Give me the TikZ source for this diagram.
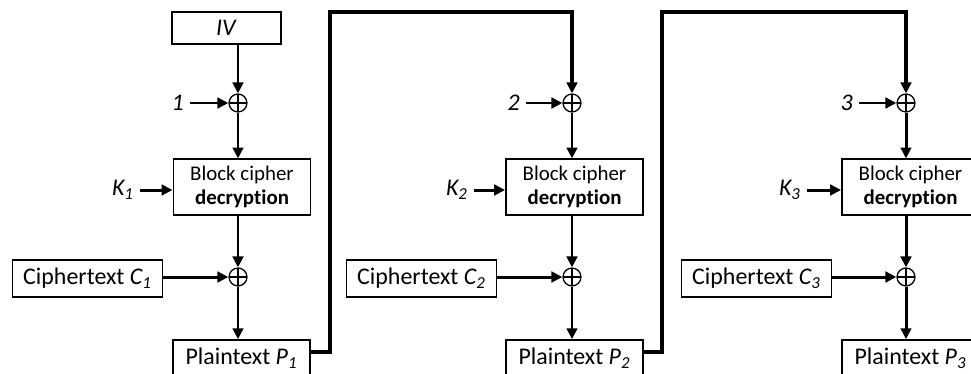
\documentclass[tikz,border=0pt]{standalone}
\usepackage{fontspec}
\setmainfont{Carlito}[Ligatures=NoCommon]
\usetikzlibrary{arrows.meta,calc}
\newcommand{\labfont}{\fontsize{13.6}{16}\selectfont}
\newcommand{\blkfont}{\fontsize{11.9}{14}\selectfont}
\tikzset{
	cbox/.style={
		draw,
		line width=0.85pt,
		align=center,
		inner xsep=6pt,
		inner ysep=0pt,
		font=\labfont
	},
	dbox/.style={cbox, minimum width=78.2pt, minimum height=31.7pt, font=\blkfont},
	pbox/.style={cbox, minimum width=78.2pt, minimum height=20.6pt},
	xorc/.style={
		circle, draw, line width=0.75pt, minimum size=10.2pt, inner sep=0pt,
		path picture={\draw[line width=0.75pt] (path picture bounding box.north) -- (path picture bounding box.south)
			(path picture bounding box.west) -- (path picture bounding box.east);}
	},
	lbl/.style={font=\labfont, anchor=east},
	carr/.style={-{Triangle[length=6.2pt,width=6pt]}, line width=1.7pt},
	fline/.style={carr, line width=1.8pt}
}

\begin{document}
\begin{tikzpicture}[x=0.02cm, y=-0.02cm]
		\useasboundingbox (0,0) rectangle (971,373);
		\clip (0,0) rectangle (971,373);
		% column 1
		\node[cbox, minimum width=61.8pt, minimum height=18.1pt] (iv) at (226.5,28) {\textit{IV}};
		\node[xorc] (x11) at (238,103) {};
		\node[lbl] (n1) at (190,103) {\textit{1}};
		\node[dbox] (d1) at (242,187) {Block cipher\\\textbf{decryption}};
		\node[lbl] (k1) at (140,190) {\textit{K\textsubscript{1}}};
		\node[xorc] (x12) at (238,277) {};
		\node[cbox, minimum height=21pt, anchor=east] (c1) at (163,278.5) {Ciphertext \textit{C\textsubscript{1}}};
		\node[pbox] (p1) at (241.5,358) {Plaintext \textit{P\textsubscript{1}}};
		% column 2
		\node[xorc] (x21) at (572,103) {};
		\node[lbl] (n2) at (526,103) {\textit{2}};
		\node[dbox] (d2) at (574.5,187) {Block cipher\\\textbf{decryption}};
		\node[lbl] (k2) at (474,190) {\textit{K\textsubscript{2}}};
		\node[xorc] (x22) at (572,277) {};
		\node[cbox, minimum height=21pt, anchor=east] (c2) at (497,278.5) {Ciphertext \textit{C\textsubscript{2}}};
		\node[pbox] (p2) at (574.5,358) {Plaintext \textit{P\textsubscript{2}}};
		% column 3
		\node[xorc] (x31) at (906,103) {};
		\node[lbl] (n3) at (859,103) {\textit{3}};
		\node[dbox] (d3) at (910.5,187) {Block cipher\\\textbf{decryption}};
		\node[lbl] (k3) at (807,190) {\textit{K\textsubscript{3}}};
		\node[xorc] (x32) at (906,277) {};
		\node[cbox, minimum height=21pt, anchor=east] (c3) at (832,278.5) {Ciphertext \textit{C\textsubscript{3}}};
		\node[pbox] (p3) at (910.5,358) {Plaintext \textit{P\textsubscript{3}}};
		% feedback corners
		\coordinate (b1) at (330,352);
		\coordinate (t1) at (330,12);
		\coordinate (b2) at (662,352);
		\coordinate (t2) at (662,12);
		% arrows
		\draw[carr] (iv.south -| x11) -- (x11);
		\draw[carr] (n1) -- (x11);
		\draw[carr] (x11) -- (x11 |- d1.north);
		\draw[carr] (k1.east |- 0,190) -- (d1.west |- 0,190);
		\draw[carr] (d1.south -| x12) -- (x12);
		\draw[carr] (c1.east |- x12) -- (x12);
		\draw[carr] (x12) -- (x12 |- p1.north);
		\draw[fline] (b1 -| p1.east) -- (b1) -- (t1) -- (t1 -| x21) -- (x21);
		\draw[carr] (n2) -- (x21);
		\draw[carr] (x21) -- (x21 |- d2.north);
		\draw[carr] (k2.east |- 0,190) -- (d2.west |- 0,190);
		\draw[carr] (d2.south -| x22) -- (x22);
		\draw[carr] (c2.east |- x22) -- (x22);
		\draw[carr] (x22) -- (x22 |- p2.north);
		\draw[fline] (b2 -| p2.east) -- (b2) -- (t2) -- (t2 -| x31) -- (x31);
		\draw[carr] (n3) -- (x31);
		\draw[carr] (x31) -- (x31 |- d3.north);
		\draw[carr] (k3.east |- 0,190) -- (d3.west |- 0,190);
		\draw[carr] (d3.south -| x32) -- (x32);
		\draw[carr] (c3.east |- x32) -- (x32);
		\draw[carr] (x32) -- (x32 |- p3.north);
	\end{tikzpicture}
\end{document}
